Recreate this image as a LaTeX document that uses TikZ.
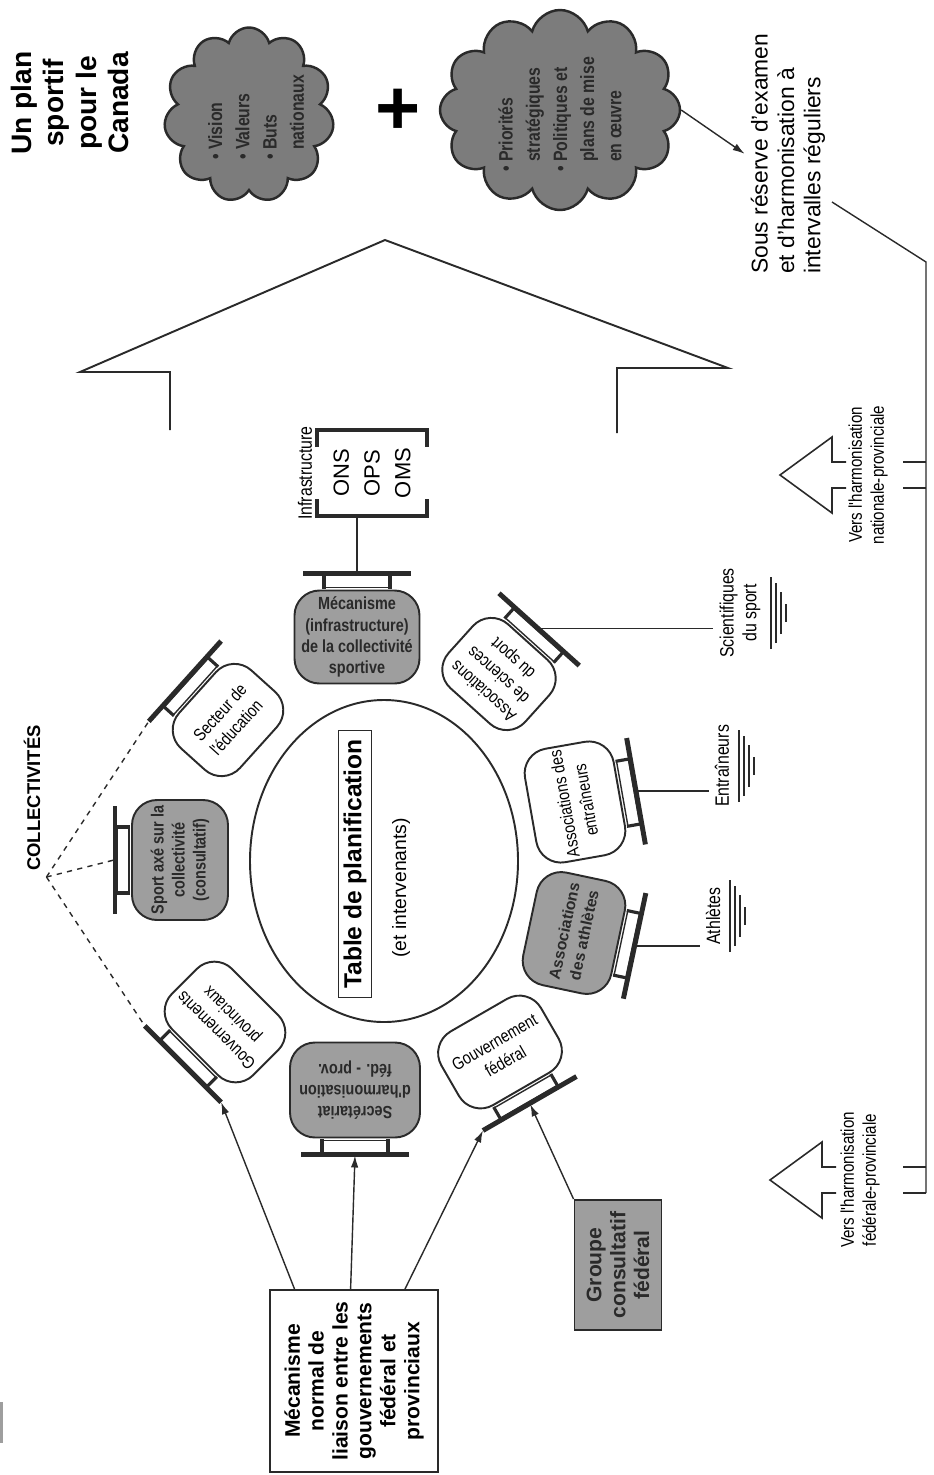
\documentclass[tikz,border=0pt]{standalone}
\usepackage{fontspec}
\setmainfont{Liberation Sans}
\newfontfamily\condfont[FakeStretch=0.82]{Liberation Sans}
\usetikzlibrary{arrows.meta,calc,shapes.geometric,shapes.symbols}
\definecolor{Ink}{HTML}{2A2A2A}
\definecolor{Shade}{HTML}{9E9E9E}
\definecolor{CloudShade}{HTML}{7C7C7C}
\tikzset{
  chairbox/.style={rounded corners=5mm,draw=Ink,line width=1.1pt,fill=white,align=center,inner sep=2pt,font=\condfont\fontsize{10}{12.5}\selectfont},
  grayseat/.style={chairbox,fill=Shade,text=Ink,font=\condfont\bfseries\fontsize{10}{12}\selectfont},
  upright/.style={rotate=90,align=center},
  note/.style={upright,font=\condfont\fontsize{11}{13}\selectfont},
  cloudtext/.style={upright,anchor=west,align=left,text=Ink,font=\condfont\bfseries\fontsize{11}{15.5}\selectfont},
  arrow/.style={-{Latex[length=2.4mm,width=1.5mm]},line width=0.8pt,draw=Ink},
  link/.style={line width=0.8pt,draw=Ink},
  dashlink/.style={link,dashed},
  bracketline/.style={line width=2.2pt,draw=Ink},
  pics/chairbar/.style={code={
    \draw[line width=0.8pt,draw=Ink] (-33,2) rectangle (33,14);
    \draw[line width=1.8pt,draw=Ink] (-33,1) -- (-33,15) (33,1) -- (33,15);
    \draw[line width=2.8pt,draw=Ink] (-54,16) -- (54,16);
    \coordinate (-out) at (0,17);
    \coordinate (-a) at (-54,16);
    \coordinate (-b) at (54,16);
  }},
  pics/crowd/.style={code={
    \draw[line width=1.1pt,draw=Ink] (-36,-4) -- (36,-4) (-30,-9) -- (30,-9)
      (-21,-14) -- (21,-14) (-9,-19) -- (9,-19);
  }},
  pics/hollowarrow/.style={code={
    \draw[line width=0.9pt,draw=Ink] (66,-13) -- (52,-13) -- (52,-38) -- (0,0)
      -- (52,38) -- (52,13) -- (66,13);
  }}
}
\begin{document}
\begin{tikzpicture}[x=0.2mm,y=0.2mm]
  \useasboundingbox (0,0) rectangle (934,-1475);
  \fill[Shade] (0,-1402) rectangle (3,-1443);

  % planning table
  \node[draw=Ink,line width=1.1pt,ellipse,minimum width=53.6mm,minimum height=64.4mm] (table) at (384,-861) {};
  \node[upright,draw=Ink,line width=0.6pt,inner xsep=5pt,inner ysep=3pt,font=\bfseries\fontsize{14}{16}\selectfont] (tabletitle) at (355,-864) {Table de planification};
  \node[upright,font=\fontsize{11}{13}\selectfont] (tablesub) at (401,-888) {(et intervenants)};

  % seats round the table
  \node[grayseat,minimum width=25mm,minimum height=18.6mm] (infra) at (357,-637) {Mécanisme\\(infrastructure)\\de la collectivité\\sportive};
  \pic (infras) at (infra.north) {chairbar};
  \node[chairbox,rotate=48,minimum width=21mm,minimum height=16.4mm] (educ) at (228,-720) {Secteur de\\l'éducation};
  \pic[rotate=48] (educs) at (educ.north) {chairbar};
  \node[grayseat,rotate=90,minimum width=24mm,minimum height=19.2mm] (sportcoll) at (180,-860) {Sport axé sur la\\collectivité\\(consultatif)};
  \pic[rotate=90] (sports) at (sportcoll.north) {chairbar};
  \node[chairbox,rotate=135,minimum width=23mm,minimum height=17mm] (govprov) at (225,-1022) {Gouvernements\\provinciaux};
  \pic[rotate=135] (govprovs) at (govprov.north) {chairbar};
  \node[grayseat,rotate=180,minimum width=26mm,minimum height=19mm] (secretariat) at (355,-1090) {Secrétariat\\d'harmonisation\\féd. - prov.};
  \pic[rotate=180] (secs) at (secretariat.north) {chairbar};
  \node[chairbox,rotate=30,minimum width=23mm,minimum height=17mm] (govfed) at (500,-1052) {Gouvernement\\fédéral};
  \pic[rotate=210] (govfeds) at (govfed.south) {chairbar};
  \node[grayseat,rotate=78,minimum width=23mm,minimum height=18mm,font=\bfseries\fontsize{9}{11.5}\selectfont] (athl) at (574,-933) {Associations\\des athlètes};
  \pic[rotate=258] (athls) at (athl.south) {chairbar};
  \node[chairbox,rotate=100,minimum width=23mm,minimum height=18mm] (coach) at (575,-802) {Associations des\\entraîneurs};
  \pic[rotate=280] (coachs) at (coach.south) {chairbar};
  \node[chairbox,rotate=138,minimum width=20.6mm,minimum height=17.2mm] (sci) at (499,-674) {Associations\\de sciences\\du sport};
  \pic[rotate=318] (scis) at (sci.south) {chairbar};

  % communities
  \node[upright,font=\bfseries\fontsize{10.5}{12}\selectfont] (coll) at (32,-798) {COLLECTIVITÉS};
  \draw[dashlink] (coll.south west) -- (educs-a);
  \draw[dashlink] (coll.south west) -- (sports-out);
  \draw[dashlink] (coll.south west) -- (govprovs-b);

  % infrastructure
  \node[note] (infralbl) at (305,-473) {Infrastructure};
  \node[upright,font=\fontsize{12.5}{17.5}\selectfont] (orgs) at (372,-473) {ONS\\OPS\\OMS};
  \draw[bracketline] ($(orgs)+(-55,26)$) -- ($(orgs)+(-55,43)$) -- ($(orgs)+(55,43)$) -- ($(orgs)+(55,26)$);
  \draw[bracketline] ($(orgs)+(-55,-26)$) -- ($(orgs)+(-55,-43)$) -- ($(orgs)+(55,-43)$) -- ($(orgs)+(55,-26)$);
  \coordinate (orgsfoot) at ($(orgs)+(0,-44)$);
  \draw[link] (infras-out) -- (infras-out |- orgsfoot);

  % stakeholders
  \node[note] (scilbl) at (740,-613) {Scientifiques\\du sport};
  \pic[rotate=90] at (scilbl.south) {crowd};
  \node[note] (coachlbl) at (722,-766) {Entraîneurs};
  \pic[rotate=90] at (coachlbl.south) {crowd};
  \node[note] (athlbl) at (713,-916) {Athlètes};
  \pic[rotate=90] at (athlbl.south) {crowd};
  \draw[link] (scis-out) -- (scis-out -| scilbl.north);
  \draw[link] (coachs-out) -- (coachs-out -| coachlbl.north);
  \draw[link] (athls-out) -- (athls-out -| athlbl.north);

  % governments
  \node[upright,draw=Ink,line width=1.1pt,fill=white,minimum width=36.4mm,minimum height=33.6mm,font=\bfseries\fontsize{12}{13.6}\selectfont] (liaison) at (354,-1381) {Mécanisme\\normal de\\liaison entre les\\gouvernements\\fédéral et\\provinciaux};
  \node[upright,draw=Ink,line width=1.1pt,fill=Shade,text=Ink,minimum width=26mm,minimum height=17.4mm,font=\bfseries\fontsize{12}{13.6}\selectfont] (groupe) at (618,-1265) {Groupe\\consultatif\\fédéral};
  \draw[arrow] ($(liaison.north east)!0.15!(liaison.south east)$) -- (govprovs-a);
  \draw[arrow] ($(liaison.north east)!0.48!(liaison.south east)$) -- (secs-out);
  \draw[arrow] ($(liaison.north east)!0.80!(liaison.south east)$) -- (govfeds-b);
  \draw[arrow] (groupe.north east) -- (govfeds-out);

  % the plan
  \draw[line width=1.1pt,draw=Ink] (170,-430) -- (170,-372) -- (80,-372) -- (385,-240)
    -- (728,-368) -- (617,-368) -- (617,-433);
  \node[upright,font=\bfseries\fontsize{16}{18.5}\selectfont] (plan) at (70,-103) {Un plan\\sportif\\pour le\\Canada};
  \node[cloud,cloud puffs=11,aspect=1,draw=Ink,line width=1.4pt,fill=CloudShade,minimum width=34mm,minimum height=35mm] (cloudA) at (249,-115) {};
  \node[cloudtext] (goals) at (256,-166) {• Vision\\• Valeurs\\• Buts\\\phantom{• }nationaux};
  \node[font=\bfseries\fontsize{44}{44}\selectfont] (plus) at (398,-112) {+};
  \node[cloud,cloud puffs=12,aspect=1.2,draw=Ink,line width=1.4pt,fill=CloudShade,minimum width=48mm,minimum height=40mm] (cloudB) at (560,-110) {};
  \node[cloudtext] (means) at (560,-178) {• Priorités\\\phantom{• }stratégiques\\• Politiques et\\\phantom{• }plans de mise\\\phantom{• }en œuvre};

  % review loop
  \node[upright,anchor=west,align=left,font=\fontsize{13}{15}\selectfont] (review) at (788,-280) {Sous réserve d'examen\\et d'harmonisation à\\intervalles réguliers};
  \draw[arrow] (cloudB.east) -- (review.north);
  \coordinate (fbstart) at (832,-202);
  \coordinate (fbcorner) at (926,-262);
  \pic at (780,-475) {hollowarrow};
  \node[note,font=\condfont\fontsize{10.5}{12.5}\selectfont] (natlbl) at (868,-475) {Vers l'harmonisation\\nationale-provinciale};
  \pic at (770,-1180) {hollowarrow};
  \node[note,font=\condfont\fontsize{10.5}{12.5}\selectfont] (fedlbl) at (860,-1180) {Vers l'harmonisation\\fédérale-provinciale};
  \draw[link] (fbstart) -- (fbcorner) -- (fbcorner |- 0,-1193);
  \draw[link] (903,-462) -- (926,-462) (903,-488) -- (926,-488);
  \draw[link] (903,-1167) -- (926,-1167) (903,-1193) -- (926,-1193);
\end{tikzpicture}
\end{document}
